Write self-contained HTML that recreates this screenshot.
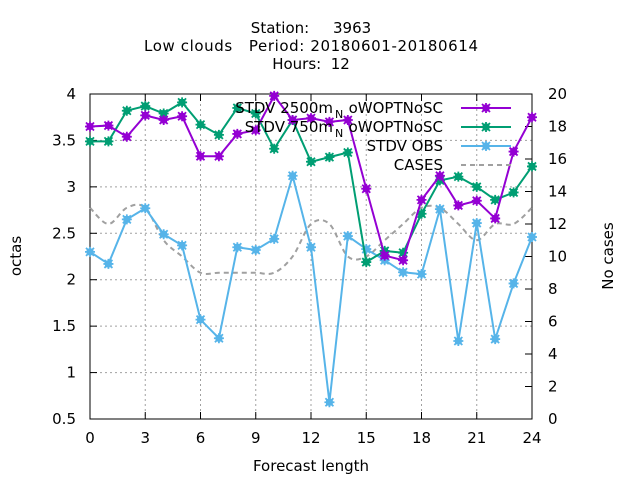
<!DOCTYPE html>
<html><head><meta charset="utf-8"><style>
html,body{margin:0;padding:0;background:#fff;}
svg{display:block;font-family:"DejaVu Sans","Liberation Sans",sans-serif;}
</style></head><body>
<svg id="chart" width="640" height="480" viewBox="0 0 640 480">
<g font-size="15" fill="#000" text-anchor="middle">
<text x="311" y="33" xml:space="preserve">Station:     3963</text>
<text x="311" y="51" textLength="334" xml:space="preserve">Low clouds   Period: 20180601-20180614</text>
<text x="311" y="69" xml:space="preserve">Hours:  12</text>
</g>
<g id="grid"></g>
<g id="axes"></g>
<g id="series"></g>
<g id="legend"></g>
<text x="311" y="471" font-size="15" text-anchor="middle">Forecast length</text>
<text transform="translate(21,256) rotate(-90)" font-size="15" text-anchor="middle">octas</text>
<text transform="translate(613,256) rotate(-90)" font-size="15" text-anchor="middle">No cases</text>
</svg>
<script>
const hours = [0,1,2,3,4,5,6,7,8,9,10,11,12,13,14,15,16,17,18,19,20,21,22,23,24];
const stdv2500 = [3.65,3.66,3.54,3.77,3.72,3.76,3.33,3.33,3.57,3.61,3.98,3.72,3.74,3.70,3.72,2.98,2.26,2.21,2.86,3.12,2.80,2.85,2.66,3.38,3.75];
const stdv750 = [3.49,3.49,3.82,3.87,3.79,3.91,3.67,3.56,3.85,3.79,3.41,3.72,3.27,3.32,3.37,2.19,2.31,2.29,2.71,3.07,3.11,3.00,2.86,2.94,3.22];
const stdvObs = [2.30,2.17,2.65,2.77,2.49,2.37,1.57,1.37,2.35,2.32,2.44,3.12,2.35,0.68,2.47,2.33,2.21,2.08,2.06,2.76,1.34,2.61,1.36,1.96,2.46];
const cases = [13,12,13,13,11,10,9,9,9,9,9,10,12,12,10,10,11,12,13,13,12,11,12,12,13];
const xTicks = [0,3,6,9,12,15,18,21,24];
const yTicks = [0.5,1,1.5,2,2.5,3,3.5,4];
const y2Ticks = [0,2,4,6,8,10,12,14,16,18,20];
const legendLabels = ["STDV 2500m","STDV 750m","STDV OBS","CASES"];

const NS="http://www.w3.org/2000/svg";
const L=90,R=532,T=94,B=419;
const xs=h=>L+(h-0)/24*(R-L);
const ys=v=>B-(v-0.5)/3.5*(B-T);
const y2s=c=>B-c/20*(B-T);
function mk(tag,attrs,parent){const e=document.createElementNS(NS,tag);for(const k in attrs)e.setAttribute(k,attrs[k]);parent.appendChild(e);return e;}
const grid=document.getElementById('grid'),axes=document.getElementById('axes'),series=document.getElementById('series'),legend=document.getElementById('legend');

xTicks.forEach(t=>{
  const x=xs(t);
  if(t>0&&t<24){const g=mk('line',{x1:x,x2:x,y1:T,y2:B,stroke:'#a0a0a0','stroke-dasharray':'2,3'},grid);
  
  }
  const tk=mk('path',{d:`M${x},${B}v-7M${x},${T}v7`,stroke:'#000'},axes);
  
  
  const lb=mk('text',{x:x,y:B+24,'font-size':15,'text-anchor':'middle'},axes);lb.textContent=t;
  
  
});
yTicks.forEach(t=>{
  const y=ys(t);
  if(t>0.5&&t<4){const g=mk('line',{x1:L,x2:R,y1:y,y2:y,stroke:'#a0a0a0','stroke-dasharray':'2,3'},grid);
  
  }
  const tk=mk('path',{d:`M${L},${y}h7`,stroke:'#000'},axes);
  
  
  const lb=mk('text',{x:L-14,y:y+5,'font-size':15,'text-anchor':'end'},axes);lb.textContent=t;
  
  
});
y2Ticks.forEach(t=>{
  const y=y2s(t);
  const tk=mk('path',{d:`M${R},${y}h-7`,stroke:'#000'},axes);
  
  
  const lb=mk('text',{x:R+16,y:y+5,'font-size':15,'text-anchor':'start'},axes);lb.textContent=t;
  
  
});
const frame=mk('rect',{x:L,y:T,width:R-L,height:B-T,fill:'none',stroke:'#000'},axes);



(function(){
  const pts=hours.map((h,i)=>[xs(h),y2s(cases[i])]);
  let d=`M${pts[0][0]},${pts[0][1]}`;
  for(let i=0;i<pts.length-1;i++){
    const p0=pts[Math.max(0,i-1)],p1=pts[i],p2=pts[i+1],p3=pts[Math.min(pts.length-1,i+2)];
    const c1=[p1[0]+(p2[0]-p0[0])/6,p1[1]+(p2[1]-p0[1])/6],c2=[p2[0]-(p3[0]-p1[0])/6,p2[1]-(p3[1]-p1[1])/6];
    d+=`C${c1[0]},${c1[1]} ${c2[0]},${c2[1]} ${p2[0]},${p2[1]}`;
  }
  const p=mk('path',{d:d,fill:'none',stroke:'#a0a0a0','stroke-width':2,'stroke-dasharray':'5,4'},series);
  
  
})();

function marker(x,y,color,parent){
  return mk('path',{d:`M${x-4},${y-4}L${x+4},${y+4}M${x-4},${y+4}L${x+4},${y-4}M${x-5},${y}h10M${x},${y-5}v10M${x-2.5},${y-2.5}h5v5h-5z`,stroke:color,'stroke-width':1.8,fill:'none'},parent);
}
function drawSeries(vals,color,name){
  const g=mk('g',{},series);
  
  
  const pl=mk('polyline',{points:hours.map((h,i)=>xs(h)+','+ys(vals[i])).join(' '),fill:'none',stroke:color,'stroke-width':2},g);
  
  
  hours.forEach((h,i)=>{const m=marker(xs(h),ys(vals[i]),color,g);
    
    });
}
drawSeries(stdvObs,'#56b4e9','stdv-obs');
drawSeries(stdv750,'#009e73','stdv-750m');
drawSeries(stdv2500,'#9400d3','stdv-2500m');

const colors=['#9400d3','#009e73','#56b4e9','#a0a0a0'];
legendLabels.forEach((lab,i)=>{
  const y=108+i*19;
  const g=mk('g',{},legend);
  
  
  if(i<2){
    const t1=mk('text',{x:333,y:y+5,'font-size':15,'text-anchor':'end'},g);t1.textContent=lab;
    const t2=mk('text',{x:335,y:y+10,'font-size':11,'text-anchor':'start'},g);t2.textContent='N';
    const t3=mk('text',{x:443,y:y+5,'font-size':15,'text-anchor':'end'},g);t3.textContent='oWOPTNoSC';
  } else {
    const t=mk('text',{x:443,y:y+5,'font-size':15,'text-anchor':'end'},g);t.textContent=lab;
  }
  if(i<3){
    mk('line',{x1:461,x2:511,y1:y,y2:y,stroke:colors[i],'stroke-width':2},g);
    marker(486,y,colors[i],g);
  } else {
    mk('line',{x1:461,x2:511,y1:y,y2:y,stroke:colors[i],'stroke-width':2,'stroke-dasharray':'5,4'},g);
  }
});
</script>
</body></html>
